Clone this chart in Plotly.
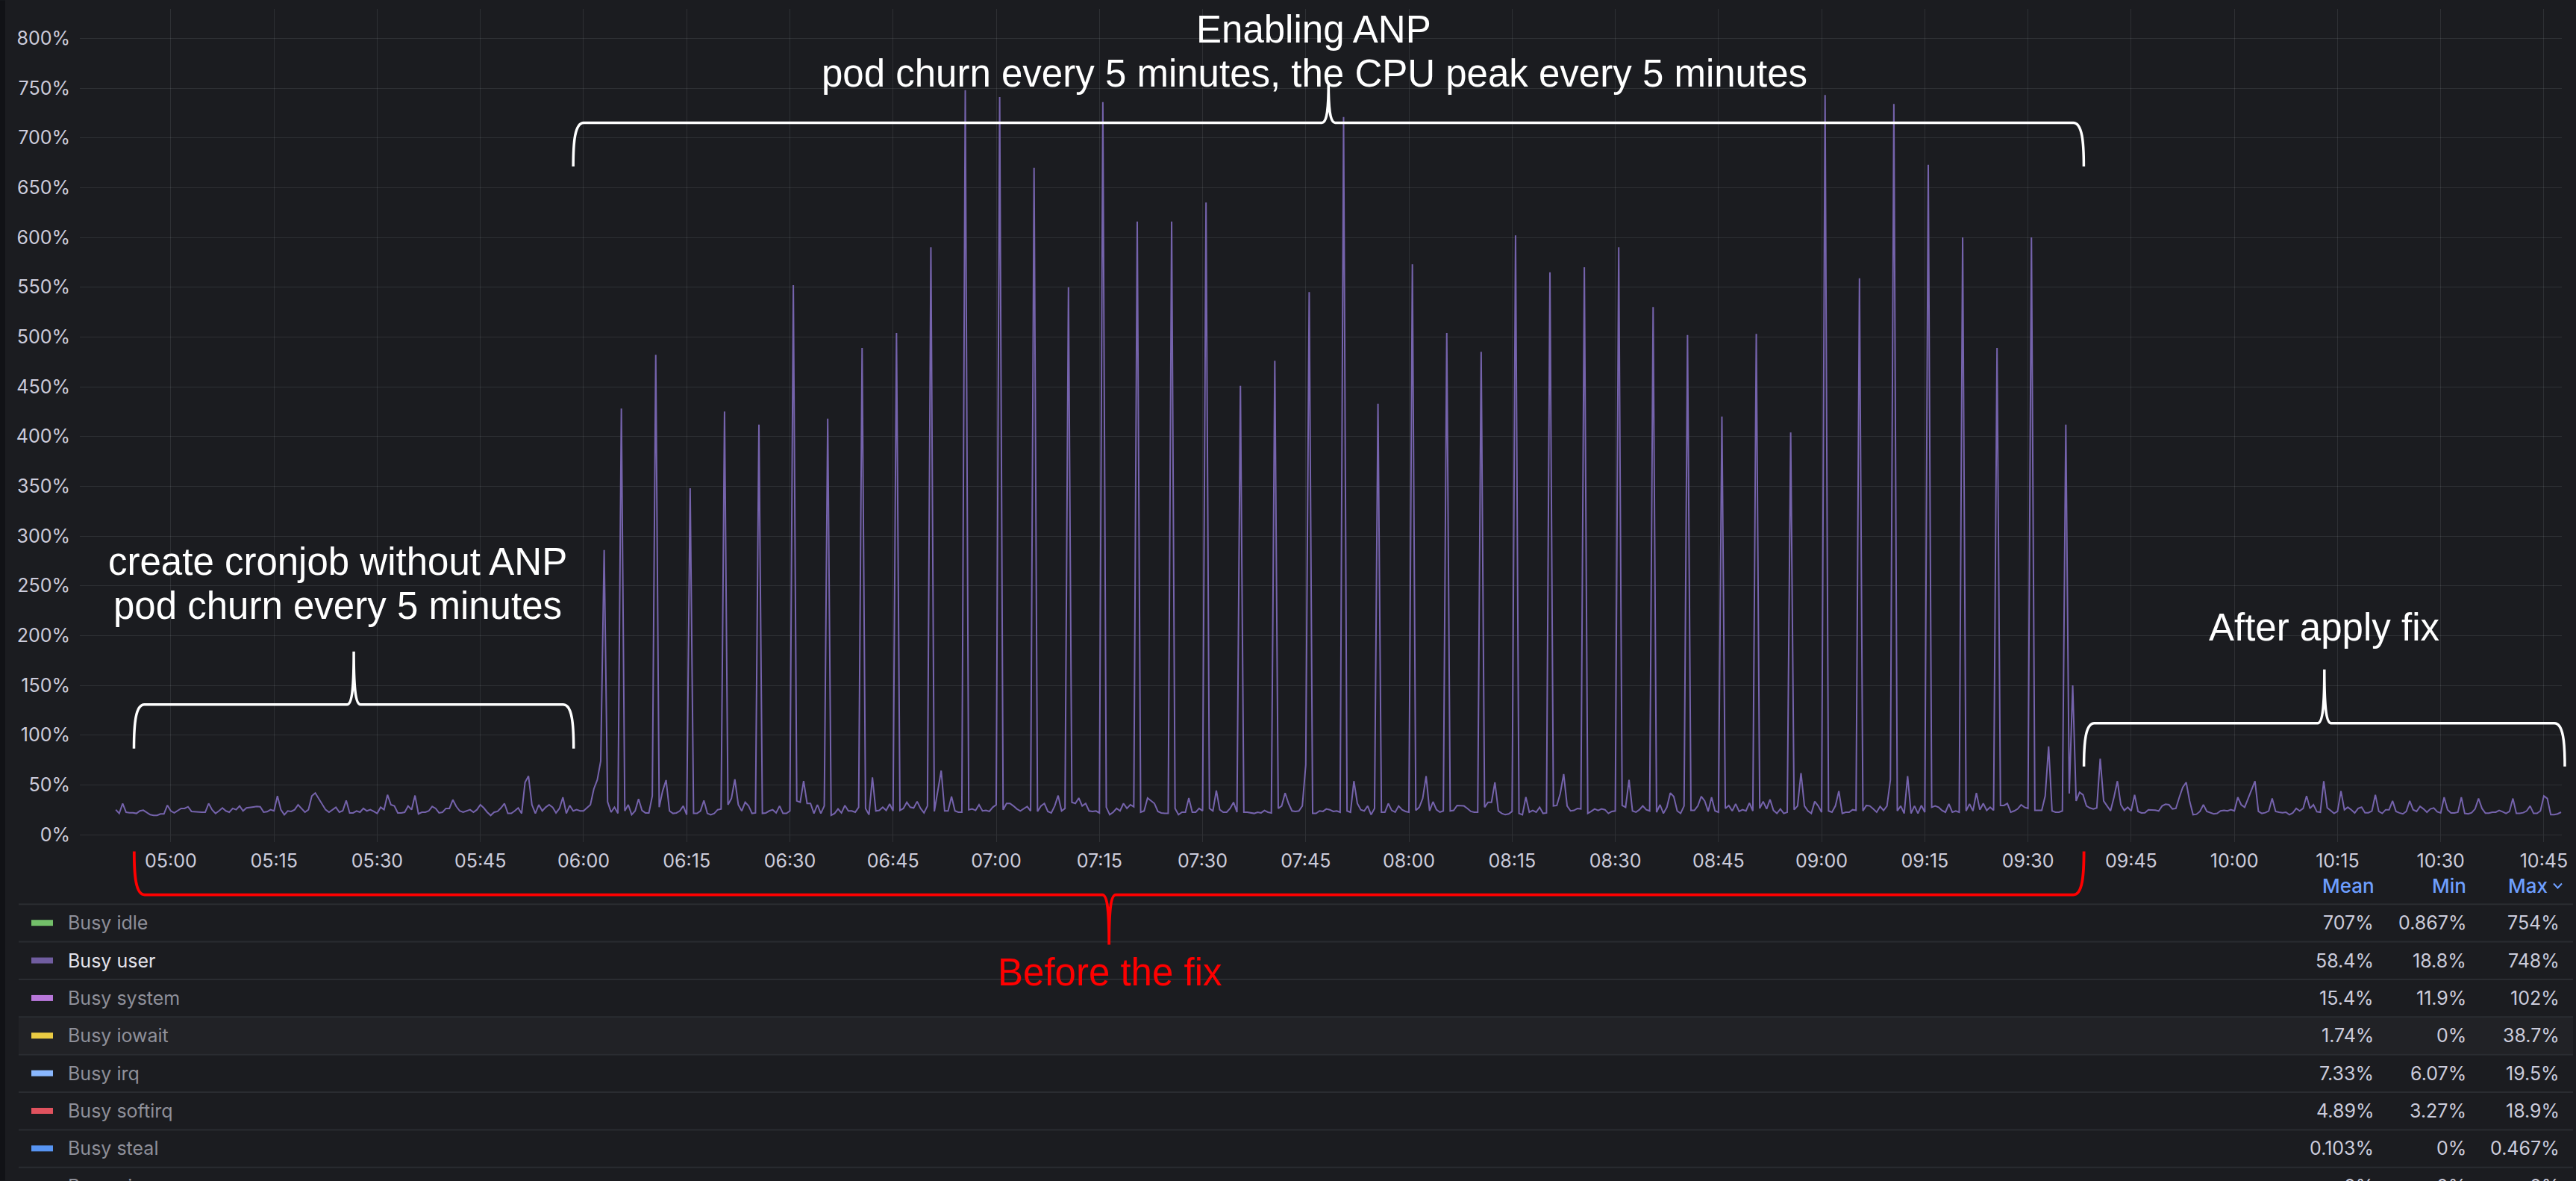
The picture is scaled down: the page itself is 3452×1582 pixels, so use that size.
import plotly.graph_objects as go
import pandas as pd

# ---------------- data ----------------
DAY = "2024-05-20"
SERIES_START = DAY + " 04:52:00"
SAMPLE_STEP = "30s"

# Busy user, one sample every 30 s
busy_user_before = [  # 04:52:00 -> 06:02:30
    25.0, 21.3, 31.3, 22.5, 22.0, 22.0, 21.3, 23.8, 24.5, 22.5,
    20.0, 19.3, 19.3, 20.8, 20.8, 29.5, 23.8, 21.8, 23.8, 26.3,
    26.3, 28.0, 23.3, 23.0, 22.5, 22.5, 22.5, 31.3, 25.0, 21.3,
    23.8, 26.8, 23.8, 22.5, 26.3, 25.0, 28.8, 23.8, 26.8, 27.5,
    27.8, 28.3, 28.0, 22.5, 23.0, 25.0, 23.8, 38.8, 25.0, 20.0,
    23.8, 23.3, 25.0, 30.0, 26.3, 22.5, 25.0, 38.8, 41.8, 36.3,
    30.0, 25.0, 22.5, 25.0, 27.5, 22.5, 24.0, 34.3, 21.8, 21.8,
    23.8, 22.5, 26.3, 23.8, 25.0, 23.3, 21.3, 27.5, 25.0, 40.0,
    30.0, 28.8, 21.8, 21.8, 22.5, 28.8, 25.0, 39.3, 20.8, 22.5,
    22.5, 23.8, 28.3, 26.3, 21.8, 22.5, 26.3, 26.3, 35.0, 28.3,
    23.8, 22.5, 24.0, 25.0, 22.5, 25.0, 30.0, 26.8, 22.5, 19.3,
    22.5, 23.3, 26.8, 31.3, 21.3, 21.3, 23.8, 26.8, 21.3, 52.5,
    58.8, 30.0, 21.3, 30.0, 23.8, 27.5, 30.0, 27.5, 21.8, 26.3,
    37.5, 21.3, 29.3, 23.8, 25.0, 23.8, 23.8, 26.8, 30.0, 46.0,
    55.0, 74.0,
]
busy_user_anp = [  # 06:03:00 -> 09:40:00
    286, 33.0, 22.5, 27.5, 21.3, 428, 23.8, 30.0, 20.0, 23.8,
    35.8, 24.3, 21.8, 21.8, 38.8, 482, 27.5, 43.8, 54.8, 23.8,
    21.3, 21.8, 23.8, 28.8, 20.0, 348, 21.3, 21.3, 23.8, 34.3,
    21.3, 20.0, 21.3, 25.0, 25.8, 425, 30.0, 36.3, 55.5, 30.0,
    23.8, 32.5, 28.8, 21.3, 21.8, 412, 21.3, 21.8, 23.8, 25.0,
    21.8, 28.8, 21.3, 21.3, 23.8, 552, 33.8, 32.5, 53.8, 31.3,
    31.3, 21.3, 30.0, 21.3, 28.8, 418, 19.4, 21.3, 25.8, 21.8,
    29.3, 23.8, 23.8, 22.5, 27.5, 489, 26.3, 20.0, 57.5, 23.8,
    24.3, 27.5, 24.3, 30.8, 23.8, 504, 24.3, 26.3, 32.5, 27.5,
    26.8, 33.3, 26.3, 21.8, 28.8, 590, 23.3, 43.8, 64.3, 23.8,
    23.8, 38.3, 23.8, 22.5, 22.5, 748, 25.0, 25.8, 24.3, 30.0,
    23.8, 24.3, 23.3, 27.5, 30.0, 741, 25.0, 31.3, 31.3, 28.8,
    25.8, 23.8, 26.3, 28.3, 23.8, 670, 23.3, 28.8, 31.3, 23.3,
    21.8, 28.8, 39.3, 23.8, 26.3, 550, 32.5, 31.3, 36.8, 28.8,
    31.3, 23.8, 23.3, 23.8, 21.8, 736, 27.5, 20.0, 22.5, 26.3,
    23.8, 31.3, 26.3, 30.0, 28.0, 616, 22.5, 23.8, 36.8, 34.3,
    31.3, 23.3, 21.8, 21.3, 21.3, 616, 26.3, 20.0, 22.5, 22.5,
    36.8, 22.5, 22.5, 26.3, 23.8, 635, 26.3, 23.8, 44.3, 25.0,
    22.5, 22.5, 26.3, 32.5, 22.5, 451, 22.5, 22.5, 21.8, 21.3,
    22.5, 21.8, 24.3, 22.5, 21.8, 476, 26.3, 28.8, 41.8, 31.3,
    23.8, 23.3, 23.8, 28.8, 70.0, 545, 21.3, 21.3, 23.8, 23.3,
    25.8, 25.0, 23.3, 23.8, 22.5, 721, 23.8, 22.5, 53.8, 31.3,
    25.0, 23.8, 28.8, 20.0, 26.3, 433, 22.5, 22.5, 31.3, 24.3,
    22.5, 28.8, 25.0, 23.3, 22.5, 573, 24.3, 27.5, 36.3, 58.8,
    23.8, 33.0, 25.0, 22.5, 23.8, 504, 23.8, 24.3, 29.3, 28.8,
    28.8, 26.3, 23.3, 22.5, 22.5, 485, 27.5, 32.5, 32.5, 52.5,
    23.8, 21.3, 20.0, 20.8, 23.3, 602, 21.3, 20.0, 37.8, 22.5,
    24.3, 22.5, 27.5, 21.3, 21.8, 565, 28.8, 29.3, 41.3, 60.8,
    28.8, 23.8, 24.3, 26.3, 25.8, 570, 21.3, 23.3, 25.8, 24.3,
    25.8, 25.0, 21.3, 23.3, 23.8, 590, 29.3, 27.5, 55.0, 23.8,
    22.5, 25.0, 28.8, 25.0, 23.8, 530, 22.5, 30.0, 21.3, 27.5,
    41.8, 38.3, 23.8, 21.3, 28.8, 502, 24.3, 24.3, 28.8, 38.3,
    33.8, 23.3, 37.5, 23.8, 22.5, 420, 26.3, 29.3, 23.8, 30.8,
    23.3, 25.0, 23.8, 31.8, 23.8, 503, 26.3, 33.3, 25.8, 35.3,
    24.3, 21.3, 25.8, 21.3, 22.5, 404, 25.0, 28.8, 61.8, 28.8,
    23.8, 21.3, 33.3, 28.8, 22.5, 743, 23.8, 22.5, 28.8, 43.8,
    21.3, 22.5, 22.5, 25.0, 24.3, 559, 23.8, 29.3, 28.8, 25.8,
    22.5, 28.3, 24.3, 28.8, 55.0, 734, 23.8, 28.8, 21.3, 58.8,
    21.3, 28.8, 21.3, 29.3, 22.5, 673, 27.5, 28.8, 27.5, 24.3,
    22.5, 30.8, 22.5, 23.8, 22.5, 600, 23.8, 30.8, 23.8, 41.8,
    25.0, 31.3, 24.3, 27.5, 24.3, 489, 29.3, 29.3, 31.3, 22.5,
    23.8, 25.8, 30.0, 27.5, 26.3, 600, 24.3, 24.3, 24.3, 38.8,
    88.7, 23.8, 22.5, 22.5, 23.8, 412, 41.3, 150, 33.8, 42.5,
    40.0, 28.8, 26.8, 25.8, 26.8,
]
busy_user_after = [  # 09:40:30 -> 10:47:30
    76.3, 33.8, 28.8, 23.8, 37.5, 53.8, 30.0, 24.3, 27.5, 23.8,
    40.0, 23.3, 21.8, 22.0, 25.0, 25.0, 24.5, 23.8, 28.8, 30.5,
    30.0, 25.8, 26.3, 37.5, 47.5, 52.5, 33.8, 20.0, 20.5, 23.3,
    30.0, 23.3, 21.8, 20.8, 21.3, 23.8, 24.3, 23.8, 25.0, 23.8,
    37.5, 30.0, 27.5, 36.3, 45.0, 53.8, 23.3, 21.3, 22.0, 23.8,
    36.3, 23.3, 22.5, 22.0, 22.5, 20.0, 21.8, 26.3, 23.8, 26.3,
    38.8, 26.3, 30.0, 23.0, 22.5, 53.8, 27.0, 23.8, 21.3, 23.3,
    43.8, 25.0, 27.5, 25.0, 21.8, 26.3, 27.5, 22.0, 22.0, 23.8,
    40.0, 23.3, 21.3, 25.0, 25.0, 33.8, 23.3, 21.8, 20.8, 23.3,
    33.8, 25.0, 23.3, 28.3, 25.8, 22.5, 25.8, 26.8, 23.0, 21.8,
    37.5, 25.0, 21.8, 21.8, 22.5, 37.5, 21.3, 20.8, 22.0, 25.8,
    36.3, 26.3, 21.5, 21.5, 22.5, 22.5, 24.3, 23.0, 21.3, 23.3,
    36.3, 21.3, 21.3, 22.0, 23.8, 28.8, 21.3, 21.3, 23.8, 38.8,
    36.3, 20.0, 20.0, 20.8, 22.5,
]

legend_names = ["Busy idle", "Busy user", "Busy system", "Busy iowait",
                "Busy irq", "Busy softirq", "Busy steal", "Busy nice"]
legend_colors = ["#73bf69", "#705da0", "#b877d9", "#eacb43",
                 "#8ab8ff", "#e0525e", "#5794f2", "#8e8e9a"]
legend_mean = ["707%", "58.4%", "15.4%", "1.74%", "7.33%", "4.89%", "0.103%", "0%"]
legend_min = ["0.867%", "18.8%", "11.9%", "0%", "6.07%", "3.27%", "0%", "0%"]
legend_max = ["754%", "748%", "102%", "38.7%", "19.5%", "18.9%", "0.467%", "0%"]
stat_headers = ["Mean", "Min", "Max"]

y_tick_values = list(range(0, 801, 50))
x_tick_first = DAY + " 05:00:00"
x_range = [DAY + " 04:46:46.4", DAY + " 10:47:36.6"]
y_max = 829.5

busy_user = busy_user_before + busy_user_anp + busy_user_after
times = pd.date_range(SERIES_START, periods=len(busy_user), freq=SAMPLE_STEP)

# ---------------- geometry / style ----------------
W, H = 3452, 1582
PL, PR, PT, PB = 107.0, 3433.0, 11.5, 1118.4
PW, PH = PR - PL, PB - PT
BG = "#1b1c20"
GRID = "rgba(240,250,255,0.09)"
TXT = "#ccccdc"
LINE = "#7563ac"


def fx(x):
    return (x - PL) / PW


def fy(y):
    return (PB - y) / PH


def brace(x0, x1, y_end, y_bar, y_tip, rx=14, tipw=9):
    xm = (x0 + x1) / 2

    def P(x, y):
        return f"{fx(x):.6f},{fy(y):.6f}"

    return (f"M {P(x0, y_end)} "
            f"C {P(x0, y_bar + 0.45 * (y_end - y_bar))} {P(x0 + 2, y_bar)} {P(x0 + rx, y_bar)} "
            f"L {P(xm - tipw, y_bar)} "
            f"C {P(xm - 2, y_bar)} {P(xm, y_bar + 0.35 * (y_tip - y_bar))} {P(xm, y_tip)} "
            f"C {P(xm, y_bar + 0.35 * (y_tip - y_bar))} {P(xm + 2, y_bar)} {P(xm + tipw, y_bar)} "
            f"L {P(x1 - rx, y_bar)} "
            f"C {P(x1 - 2, y_bar)} {P(x1, y_bar + 0.45 * (y_end - y_bar))} {P(x1, y_end)}")


def label(x, y, s, size, color, anchor="center", family="Inter, Roboto, sans-serif", weight=None):
    f = dict(size=size, color=color, family=family)
    if weight:
        f["weight"] = weight
    return dict(x=fx(x), y=fy(y), xref="paper", yref="paper", text=s, showarrow=False,
                xanchor=anchor, yanchor="middle", font=f, borderpad=0)


fig = go.Figure()
fig.add_trace(go.Scatter(x=times, y=busy_user, mode="lines", name="Busy user",
                         line=dict(color=LINE, width=2), hoverinfo="skip"))

shapes = []
annotations = []

# left dark strip of the page
shapes.append(dict(type="rect", xref="paper", yref="paper", x0=fx(0), x1=fx(7), y0=fy(0), y1=fy(H),
                   fillcolor="#111216", line=dict(width=0), layer="below"))

# legend table
ROW0, ROWH = 1236.7, 50.4
SEP0 = 1211.7
shapes.append(dict(type="rect", xref="paper", yref="paper", x0=fx(25), x1=fx(3448),
                   y0=fy(SEP0 + 3 * ROWH), y1=fy(SEP0 + 4 * ROWH),
                   fillcolor="#212226", line=dict(width=0), layer="below"))
for i in range(8):
    ys = SEP0 + i * ROWH
    shapes.append(dict(type="line", xref="paper", yref="paper", x0=fx(25), x1=fx(3448),
                       y0=fy(ys), y1=fy(ys), line=dict(color="#2a2c31", width=2)))

for i, name in enumerate(legend_names):
    yc = ROW0 + i * ROWH
    shapes.append(dict(type="rect", xref="paper", yref="paper", x0=fx(42), x1=fx(71),
                       y0=fy(yc - 4), y1=fy(yc + 4), fillcolor=legend_colors[i],
                       line=dict(width=0)))
    name_color = "#e4e4ec" if name == "Busy user" else "#8e8f99"
    annotations.append(label(89.5, yc, name, 25, name_color, anchor="left"))
    annotations.append(label(3182, yc, legend_mean[i], 25, TXT, anchor="right"))
    annotations.append(label(3306, yc, legend_min[i], 25, TXT, anchor="right"))
    annotations.append(label(3431, yc, legend_max[i], 25, TXT, anchor="right"))

HDR_Y = 1186.7
for hx, h in zip([3182.5, 3306, 3414.6], stat_headers):
    annotations.append(label(hx, HDR_Y, h, 26, "#6e9fff", anchor="right", weight=500))
# sort chevron next to "Max"
shapes.append(dict(type="path", xref="paper", yref="paper",
                   path=f"M {fx(3422):.6f},{fy(1184):.6f} L {fx(3427.5):.6f},{fy(1190):.6f} "
                        f"L {fx(3433):.6f},{fy(1184):.6f}",
                   line=dict(color="#6e9fff", width=2), fillcolor="rgba(0,0,0,0)"))

# white braces over the chart
for (x0, x1, y_end, y_bar, y_tip) in [
    (179.5, 768.7, 1003, 944, 873),
    (768.2, 2792.4, 222.7, 164, 110),
    (2792.6, 3437, 1027, 969, 897),
]:
    shapes.append(dict(type="path", xref="paper", yref="paper", path=brace(x0, x1, y_end, y_bar, y_tip),
                       line=dict(color="#ffffff", width=3.5), fillcolor="rgba(0,0,0,0)"))
# red brace under the time axis
shapes.append(dict(type="path", xref="paper", yref="paper", path=brace(179.8, 2792.6, 1141, 1199, 1266),
                   line=dict(color="#ff0000", width=3.8), fillcolor="rgba(0,0,0,0)"))

ARIAL = "Liberation Sans, Arial, Helvetica, sans-serif"
annotations += [
    label(452, 753, "create cronjob without ANP", 51, "#ffffff", family=ARIAL),
    label(452, 812, "pod churn every 5 minutes", 51, "#ffffff", family=ARIAL),
    label(1760, 39, "Enabling ANP", 51, "#ffffff", family=ARIAL),
    label(1761, 98, "pod churn every 5 minutes, the CPU peak every 5 minutes", 51, "#ffffff", family=ARIAL),
    label(3114, 841, "After apply fix", 51, "#ffffff", family=ARIAL),
    label(1487, 1303, "Before the fix", 51, "#ff0000", family=ARIAL),
]

fig.update_layout(
    width=W, height=H,
    margin=dict(l=PL, r=W - PR, t=PT, b=H - PB, pad=0),
    paper_bgcolor=BG, plot_bgcolor=BG,
    showlegend=False,
    font=dict(family="Inter, Roboto, sans-serif", color=TXT, size=25),
    shapes=shapes,
    annotations=annotations,
    hovermode=False,
)
fig.update_xaxes(
    type="date", range=x_range, tick0=x_tick_first, dtick=15 * 60 * 1000, tickformat="%H:%M",
    showgrid=True, gridcolor=GRID, gridwidth=1, zeroline=False, showline=False,
    ticks="outside", ticklen=9, tickwidth=1, tickcolor=GRID,
    tickfont=dict(size=25, color=TXT), ticklabelstandoff=4,
)
fig.update_yaxes(
    range=[0, y_max], tickmode="array", tickvals=y_tick_values,
    ticktext=[f"{v}%" for v in y_tick_values],
    showgrid=True, gridcolor=GRID, gridwidth=1,
    zeroline=True, zerolinecolor=GRID, zerolinewidth=1, showline=False,
    ticks="", tickfont=dict(size=25, color=TXT), ticklabelstandoff=12,
)

fig.write_html(
    "out.html",
    config={"displayModeBar": False},
    post_script=("document.body.style.margin='0';"
                 "document.body.style.background='" + BG + "';"
                 "document.body.style.overflow='hidden';"),
)
